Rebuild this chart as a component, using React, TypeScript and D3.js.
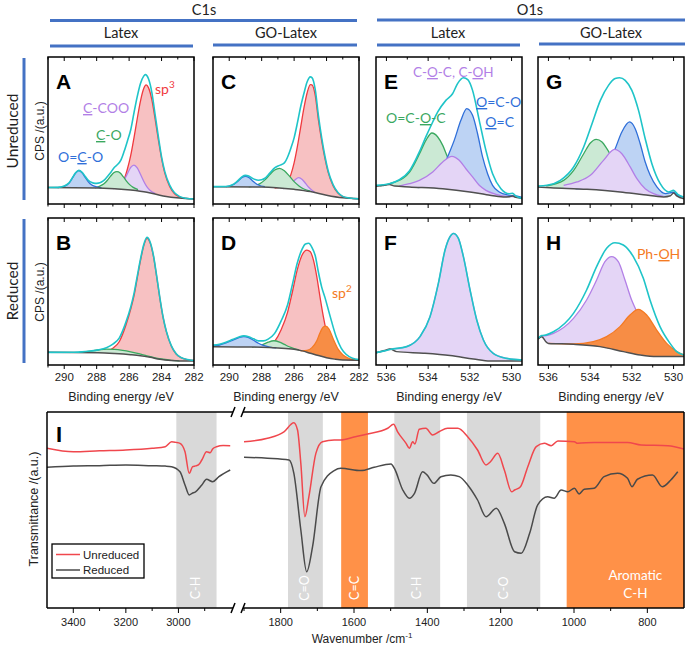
import React from 'react';
import * as d3 from 'd3';

type Pt = [number, number];

// ---------- XPS data: [binding energy eV, intensity (% of panel height)] ----------
const c1sDomain: Pt = [291, 282];
const o1sDomain: Pt = [536.5, 529.5];
const c1sTicks = [290, 288, 286, 284, 282];
const o1sTicks = [536, 534, 532, 530];

// A  Latex C1s unreduced
const bgA: Pt[] = [[291, 11.2], [287.9, 10.9], [285.9, 9.5], [284.9, 8], [283.9, 5.5], [282.9, 4], [282, 3.4]];
const ocoA: Pt[] = [[290.4, 11.2], [290.0, 12], [289.7, 14.2], [289.5, 17.6], [289.3, 21], [289.1, 22.7], [288.9, 21.2], [288.7, 18], [288.5, 14.9], [288.3, 12.9], [288.0, 11.6], [287.7, 11]];
const coA: Pt[] = [[288.1, 11], [287.8, 12.2], [287.55, 13.7], [287.35, 16], [287.15, 18.8], [286.95, 21.2], [286.75, 22], [286.55, 21.1], [286.35, 18.4], [286.15, 15.4], [285.95, 13], [285.75, 11.3], [285.45, 9.8]];
const ccooA: Pt[] = [[287.0, 10.5], [286.7, 11.3], [286.5, 13.0], [286.3, 16.3], [286.1, 20.8], [285.9, 24.9], [285.7, 26.5], [285.5, 24.6], [285.3, 20.2], [285.1, 15.5], [284.9, 11.6], [284.7, 9.2], [284.4, 7.2]];
const sp3A: Pt[] = [[287.1, 10.8], [286.7, 11.6], [286.3, 17], [286.1, 24], [285.9, 33], [285.7, 45], [285.5, 58], [285.3, 70], [285.1, 78.5], [284.95, 81], [284.8, 79], [284.6, 71], [284.4, 58], [284.2, 44], [284.0, 31], [283.8, 21], [283.5, 12], [283.2, 7], [282.9, 4.8], [282.5, 3.8], [282, 3.4]];
const envA: Pt[] = [[291, 11.2], [290.4, 11.3], [290.0, 12.2], [289.7, 14.4], [289.5, 17.8], [289.3, 21.2], [289.1, 22.9], [288.9, 21.6], [288.7, 18.7], [288.5, 16], [288.3, 14.6], [288.1, 14], [287.9, 14.2], [287.7, 15], [287.5, 16.6], [287.3, 19.2], [287.1, 22], [286.9, 25], [286.75, 26.5], [286.5, 30], [286.3, 36], [286.1, 43], [285.9, 50.5], [285.7, 62], [285.5, 73], [285.3, 82], [285.1, 87], [285.0, 88], [284.8, 85], [284.6, 76], [284.4, 61], [284.2, 46], [284.0, 32], [283.8, 22], [283.5, 12.8], [283.2, 7.6], [282.9, 5.2], [282.5, 3.9], [282, 3.4]];

// B  Latex C1s reduced
const bgB: Pt[] = [[291, 8.6], [287.9, 8.3], [286.9, 7.8], [285.9, 7], [285.3, 6.3], [284.7, 5.2], [284.1, 3.9], [283.4, 3], [282.9, 2.7], [282, 2.7]];
const coB: Pt[] = [[289.1, 8.6], [288.5, 9.2], [287.9, 10.2], [287.4, 10.8], [286.9, 10.6], [286.4, 9.9], [285.9, 8.9], [285.4, 7.7], [284.9, 6.2], [284.4, 4.9], [283.9, 3.9], [283.4, 3.2], [282.9, 2.8]];
const sp3B: Pt[] = [[287.4, 9.5], [287.0, 11.4], [286.6, 16], [286.2, 27], [285.9, 38], [285.7, 47], [285.5, 59], [285.3, 71], [285.1, 81], [284.9, 86.2], [284.7, 83], [284.5, 74], [284.3, 60], [284.1, 45], [283.9, 32], [283.7, 22.5], [283.4, 13], [283.1, 7.5], [282.8, 5], [282.4, 3.6], [282, 3.1]];
const envB: Pt[] = [[291, 8.6], [289.4, 8.7], [288.9, 8.9], [288.4, 9.5], [287.9, 10.3], [287.4, 11.8], [287.0, 14.2], [286.6, 18.5], [286.2, 29], [285.9, 39.5], [285.7, 48.5], [285.5, 60.3], [285.3, 72], [285.1, 81.8], [284.9, 86.8], [284.7, 83.5], [284.5, 74.5], [284.3, 60.5], [284.1, 45.5], [283.9, 32.3], [283.7, 22.8], [283.4, 13.2], [283.1, 7.7], [282.8, 5.1], [282.4, 3.7], [282, 3.1]];

// C  GO-Latex C1s unreduced
const bgC: Pt[] = [[291, 11.8], [288, 11.6], [286, 10], [285, 8.5], [284, 6], [283, 4.2], [282, 3.5]];
const ocoC: Pt[] = [[290.2, 11.8], [289.8, 12.9], [289.6, 14.3], [289.4, 16.2], [289.2, 18.1], [289.0, 18.8], [288.8, 18.1], [288.6, 16.2], [288.4, 14.3], [288.2, 12.9], [287.8, 11.8]];
const coC: Pt[] = [[288.8, 11.7], [288.4, 12.5], [288.1, 13.9], [287.8, 16.4], [287.5, 20], [287.2, 23.1], [286.9, 24.3], [286.6, 22.6], [286.3, 19.1], [286.0, 15.2], [285.7, 12.3], [285.4, 10.2], [285.0, 8.8]];
const ccooC: Pt[] = [[286.7, 10.4], [286.5, 11], [286.3, 12.4], [286.1, 14.6], [285.9, 16.9], [285.72, 17.9], [285.5, 16.7], [285.3, 14.1], [285.1, 11.4], [284.9, 9.3], [284.7, 7.7]];
const sp3C: Pt[] = [[287.2, 10.8], [286.8, 11.6], [286.4, 15], [286.2, 20], [286.0, 28], [285.8, 39], [285.6, 52], [285.4, 65], [285.2, 75.5], [285.0, 81.2], [284.9, 81], [284.7, 74], [284.5, 57], [284.3, 43], [284.1, 31], [283.9, 21.5], [283.6, 12.5], [283.3, 7.4], [283.0, 5], [282.6, 4], [282.0, 3.5]];
const envC: Pt[] = [[291, 11.8], [290.2, 11.9], [289.8, 13.1], [289.6, 14.6], [289.4, 16.6], [289.2, 18.6], [289.0, 19.5], [288.8, 19.0], [288.6, 17.7], [288.4, 16.6], [288.2, 16.2], [288.0, 16.5], [287.8, 17.5], [287.5, 21], [287.2, 24.5], [286.9, 26.3], [286.6, 28], [286.4, 32], [286.2, 38], [286.0, 45], [285.8, 55], [285.6, 66], [285.4, 75], [285.2, 83], [285.0, 86.5], [284.9, 86], [284.7, 78], [284.5, 60], [284.3, 45], [284.1, 32.5], [283.9, 22.5], [283.6, 13.2], [283.3, 7.8], [283.0, 5.2], [282.6, 4.1], [282, 3.5]];

// D  GO-Latex C1s reduced
const bgD: Pt[] = [[291, 12.5], [288, 12.1], [287, 11.6], [286, 10.7], [285.5, 9.6], [285, 8], [284.5, 6.4], [284, 5], [283.5, 4], [283, 3.4], [282, 3.3]];
const ocoD: Pt[] = [[291, 13], [290.6, 13.6], [290.2, 15], [289.8, 16.8], [289.4, 18.6], [289.1, 19.3], [288.8, 18.6], [288.5, 16.8], [288.2, 14.8], [287.9, 13.3], [287.5, 12.2], [287.1, 11.7]];
const coD: Pt[] = [[288.6, 12.1], [288.2, 12.8], [287.9, 14], [287.6, 15.5], [287.24, 16.5], [286.9, 15.6], [286.6, 14], [286.3, 12.4], [286, 11.2], [285.7, 10.3]];
const sp3D: Pt[] = [[287.6, 12.2], [287.2, 16], [286.8, 24], [286.4, 36], [286.1, 50], [285.8, 65], [285.5, 75], [285.21, 78.2], [285.0, 77], [284.8, 71], [284.6, 60], [284.4, 46], [284.2, 33], [284.0, 22], [283.8, 13.5], [283.5, 8], [283.2, 5.5], [282.9, 4.2], [282.5, 3.5], [282, 3.3]];
const sp2D: Pt[] = [[285.6, 9.6], [285.2, 10], [284.9, 11.8], [284.6, 16.5], [284.4, 22], [284.2, 25.8], [284.05, 26.5], [283.85, 24.5], [283.6, 18], [283.3, 11], [283.0, 7], [282.7, 4.8], [282.3, 3.6], [282, 3.3]];
const envD: Pt[] = [[291, 13.5], [290.6, 14.1], [290.2, 15.5], [289.8, 17.3], [289.4, 19.1], [289.1, 19.8], [288.8, 19.2], [288.5, 17.8], [288.2, 16.4], [287.9, 16.4], [287.6, 17.6], [287.2, 21.5], [286.8, 30], [286.4, 41], [286.1, 55], [285.8, 69.5], [285.5, 79], [285.3, 82.3], [285.1, 82.8], [284.9, 80], [284.7, 74.5], [284.5, 63], [284.3, 53], [284.1, 46], [283.9, 38], [283.7, 30], [283.4, 19], [283.1, 11.5], [282.8, 7.3], [282.4, 4.6], [282, 3.7]];

// E  Latex O1s unreduced
const bgE: Pt[] = [[536.5, 12], [536.2, 12.6], [535.86, 13.2], [535.6, 12.2], [534.9, 11.6], [533.3, 10.4], [532.0, 8.2], [531.2, 6.3], [530.4, 4.8], [530.1, 5], [529.95, 5.4], [529.8, 4.5], [529.5, 3.8]];
const ocoE: Pt[] = [[536.3, 12.4], [535.9, 13.6], [535.54, 15.2], [535.2, 17.5], [534.9, 21.5], [534.65, 27.5], [534.42, 34], [534.1, 43.5], [533.82, 48.3], [533.54, 45.6], [533.3, 39.9], [533.07, 32], [532.8, 25.5], [532.5, 20], [532.19, 15.6], [531.8, 11.5], [531.3, 8], [530.9, 6.5]];
const cocE: Pt[] = [[535.4, 12.2], [534.9, 13.8], [534.42, 16.1], [533.78, 21.8], [533.3, 28.6], [532.86, 32.4], [532.51, 29.7], [532.19, 24], [531.87, 18.4], [531.55, 12.7], [531.23, 9.3], [530.75, 6.6], [530.27, 5.2], [529.9, 5]];
const oceE: Pt[] = [[534.5, 11.2], [534.1, 12], [533.7, 15], [533.38, 21.8], [533.07, 32], [532.75, 43.3], [532.43, 56.9], [532.15, 64.9], [531.87, 60.3], [531.63, 47.8], [531.39, 32], [531.15, 20.6], [530.91, 12.7], [530.59, 8.2], [530.11, 5.9], [529.63, 5], [529.5, 4.5]];
const envE: Pt[] = [[536.5, 12.7], [535.86, 13.8], [535.38, 16.5], [534.9, 22.5], [534.42, 35.5], [534.1, 46], [533.78, 55.8], [533.54, 62.6], [533.15, 70.5], [532.83, 75], [532.59, 81.9], [532.31, 85.9], [532.1, 84.6], [531.87, 77.3], [531.55, 56.9], [531.23, 36.5], [530.91, 20.6], [530.51, 10.4], [530.11, 7], [529.95, 7.2], [529.8, 5.5], [529.5, 3.8]];

// F  Latex O1s reduced
const bgF: Pt[] = [[536.5, 8.4], [536.1, 9.8], [535.83, 10.9], [535.51, 9.1], [534.23, 8], [532.95, 6.4], [531.83, 4.1], [531.03, 2.7], [529.5, 2.7]];
const cocF: Pt[] = [[536.5, 8.4], [536.1, 9.6], [535.83, 10.6], [535.03, 12.5], [534.39, 19.3], [533.91, 32.9], [533.51, 55.5], [533.19, 78.2], [532.95, 87.3], [532.79, 89.5], [532.55, 86.2], [532.31, 73.7], [531.99, 51], [531.67, 30.6], [531.35, 17], [530.88, 7.9], [530.24, 4.5], [529.5, 3.4]];

// G  GO-Latex O1s unreduced
const bgG: Pt[] = [[536.5, 11.6], [535.9, 11.1], [534.15, 10], [532.56, 8.2], [531.44, 6.3], [530.48, 4.8], [530.15, 5.6], [530.0, 7.5], [529.85, 5.5], [529.5, 3.6]];
const ocoG: Pt[] = [[536.1, 12.4], [535.27, 16.1], [534.79, 22.9], [534.31, 34.2], [533.99, 41.5], [533.71, 44], [533.43, 42.2], [533.2, 37.6], [532.96, 32], [532.56, 22.9], [532.08, 15], [531.6, 10.4], [531.1, 7.2]];
const cocG: Pt[] = [[535.27, 12.7], [534.63, 15], [533.99, 19.5], [533.36, 29.7], [532.83, 37.2], [532.48, 34.2], [532.08, 25.2], [531.76, 17.2], [531.36, 10.4], [530.96, 7], [530.48, 5.2]];
const oceG: Pt[] = [[534.7, 10.3], [534.31, 10.8], [533.83, 12.7], [533.43, 18.4], [533.12, 27.4], [532.8, 37.6], [532.48, 49], [532.11, 55.8], [531.84, 51.2], [531.6, 41], [531.36, 28.6], [531.12, 19.5], [530.8, 11.6], [530.4, 7], [530.0, 8], [529.8, 5.8], [529.52, 4.8]];
const envG: Pt[] = [[536.5, 12.2], [536.07, 12.7], [535.43, 16.1], [534.79, 25.2], [534.31, 38.8], [533.91, 54.6], [533.51, 70.5], [533.12, 80.7], [532.8, 85.3], [532.59, 85.9], [532.32, 84.1], [532, 77.3], [531.68, 63.7], [531.36, 44.4], [531.04, 27.4], [530.64, 13.8], [530.24, 8.2], [530.0, 9.3], [529.8, 6.5], [529.52, 4.8]];

// H  GO-Latex O1s reduced
const bgH: Pt[] = [[536.5, 17.5], [536.32, 19.3], [536.1, 15.5], [536, 14.7], [534.8, 14.1], [533.53, 12.5], [532.4, 9.1], [531.6, 6.8], [530.8, 5.7], [529.5, 5.7]];
const cocH: Pt[] = [[536.5, 18.1], [536.32, 19.8], [536.1, 20], [535.76, 21.5], [534.8, 31.7], [534.17, 44.2], [533.69, 57.8], [533.29, 70.3], [532.97, 73.7], [532.65, 70.3], [532.33, 57.8], [532.01, 44.2], [531.77, 36.3], [531.45, 23.8], [531.13, 15.9], [530.65, 10.2], [530.01, 6.8], [529.5, 5.8]];
const phohH: Pt[] = [[536, 14.7], [534.8, 14.3], [533.85, 15.9], [533.21, 19.3], [532.57, 26.1], [532.09, 34], [531.69, 37.9], [531.29, 34], [530.81, 23.8], [530.33, 14.7], [529.85, 9.1], [529.5, 6.8]];
const envH: Pt[] = [[536.5, 18.1], [536.32, 20], [536.1, 20.5], [535.76, 22.6], [534.8, 35.1], [534.17, 51], [533.69, 66.9], [533.21, 79.4], [532.81, 83.2], [532.41, 81.6], [531.93, 73.7], [531.45, 59], [531.13, 44.2], [530.65, 26.1], [530.17, 14.7], [529.85, 9.1], [529.5, 6.8]];

// ---------- FTIR data: [wavenumber cm-1, transmittance a.u.] ----------
const ftirTicksLeft = [3400, 3200, 3000];
const ftirTicksRight = [1800, 1600, 1400, 1200, 1000, 800];
const unreducedHigh: Pt[] = [[3500, 81.5], [3400, 79.7], [3300, 80.2], [3200, 80.6], [3100, 81.5], [3050, 82.3], [3026, 84.8], [3010, 84.5], [2994, 84.0], [2975, 79.7], [2959, 68.7], [2946, 72.1], [2935, 72.5], [2924, 73.0], [2911, 75.5], [2893, 79.7], [2879, 79.2], [2870, 81.1], [2855, 82.3], [2830, 82.9], [2803, 82.8]];
const reducedHigh: Pt[] = [[3500, 71.8], [3400, 72.4], [3300, 72.6], [3200, 73.0], [3100, 72.6], [3050, 72.4], [3026, 72.1], [2994, 69.5], [2975, 62.8], [2959, 57.7], [2948, 58.5], [2935, 59.3], [2911, 62.8], [2893, 65.7], [2870, 64.4], [2846, 67.0], [2803, 70.4]];
const unreducedLow: Pt[] = [[1900, 84.8], [1836, 86.6], [1791, 89.9], [1764, 94.5], [1754, 90.8], [1745, 73.8], [1734, 46.6], [1723, 56.8], [1704, 78.9], [1686, 84.8], [1654, 85.7], [1636, 85.7], [1600, 87.2], [1563, 88.8], [1508, 91.7], [1492, 93.7], [1481, 89.9], [1458, 84.0], [1449, 81.5], [1440, 84.8], [1434, 83.7], [1422, 91.2], [1404, 91.7], [1386, 88.3], [1368, 89.9], [1345, 91.7], [1317, 91.7], [1290, 87.4], [1263, 80.6], [1240, 73.0], [1228, 74.6], [1208, 78.9], [1190, 70.4], [1170, 59.3], [1162, 60.2], [1146, 61.9], [1126, 72.1], [1103, 82.3], [1081, 84.0], [1062, 82.8], [1044, 85.2], [999, 84.8], [990, 84.0], [945, 84.5], [854, 84.5], [817, 83.2], [744, 82.8], [700, 81.1]];
const reducedLow: Pt[] = [[1900, 76.9], [1836, 76.4], [1777, 75.5], [1764, 68.7], [1745, 39.8], [1729, 18.5], [1713, 31.3], [1690, 61.9], [1654, 70.1], [1636, 71.3], [1581, 70.1], [1545, 71.8], [1499, 73.5], [1490, 71.3], [1467, 60.2], [1449, 56.0], [1435, 58.5], [1413, 69.5], [1401, 67.9], [1382, 63.6], [1363, 67.0], [1336, 67.9], [1313, 67.0], [1290, 62.8], [1263, 55.1], [1240, 46.6], [1212, 50.9], [1190, 43.2], [1162, 28.7], [1144, 27.9], [1121, 38.1], [1099, 52.6], [1072, 56.8], [1054, 56.0], [1035, 60.2], [1017, 59.3], [999, 61.1], [986, 58.2], [972, 60.6], [945, 61.1], [918, 67.0], [881, 68.7], [854, 66.2], [842, 61.9], [827, 65.7], [786, 67.9], [759, 61.9], [736, 65.3], [717, 69.5]];
const bandFrom = [3008, 1780, 1635, 1490, 1292, 1020];
const bandTo = [2855, 1685, 1562, 1365, 1092, 700];
const bandNames = ['C-H', 'C=O', 'C=C', 'C-H', 'C-O', 'Aromatic C-H'];
const bandKinds = ['grey', 'grey', 'orange', 'grey', 'grey', 'orange'];

// ---------- styling ----------
const SANS = "'Liberation Sans', Arial, sans-serif";
const CAL = "Lato, 'Open Sans', sans-serif";
const HEAD = '#4472c4';
const ENV = '#1fc4c8';
const RED = '#f0393e';
const PUR = '#b27fe6';
const GRN = '#3aa85f';
const BLU = '#2f6fd9';
const ORG = '#f47a23';
const BGL = '#505050';
const FILL: Record<string, string> = {
  [RED]: '#f7c1c2',
  [PUR]: '#e4d5f6',
  [GRN]: '#cbe9d4',
  [BLU]: '#bdd3f4',
  [ORG]: '#f78d45',
};

const COLS = [48, 213, 376, 538];
const ROWS = [57, 218];
const PW = 146;
const PH = 147;

type Comp = { data: Pt[]; color: string };
type Spec = { id: string; col: number; row: number; c1s: boolean; bg: Pt[]; comps: Comp[]; env: Pt[] };

const comp = (data: Pt[], color: string): Comp => ({ data, color });

// components listed in painting order (later fills cover earlier ones)
const specs: Spec[] = [
  { id: 'A', col: 0, row: 0, c1s: true, bg: bgA, env: envA, comps: [comp(sp3A, RED), comp(ccooA, PUR), comp(coA, GRN), comp(ocoA, BLU)] },
  { id: 'B', col: 0, row: 1, c1s: true, bg: bgB, env: envB, comps: [comp(sp3B, RED), comp(coB, GRN)] },
  { id: 'C', col: 1, row: 0, c1s: true, bg: bgC, env: envC, comps: [comp(sp3C, RED), comp(ccooC, PUR), comp(coC, GRN), comp(ocoC, BLU)] },
  { id: 'D', col: 1, row: 1, c1s: true, bg: bgD, env: envD, comps: [comp(sp3D, RED), comp(coD, GRN), comp(ocoD, BLU), comp(sp2D, ORG)] },
  { id: 'E', col: 2, row: 0, c1s: false, bg: bgE, env: envE, comps: [comp(ocoE, GRN), comp(oceE, BLU), comp(cocE, PUR)] },
  { id: 'F', col: 2, row: 1, c1s: false, bg: bgF, env: cocF, comps: [comp(cocF, PUR)] },
  { id: 'G', col: 3, row: 0, c1s: false, bg: bgG, env: envG, comps: [comp(ocoG, GRN), comp(oceG, BLU), comp(cocG, PUR)] },
  { id: 'H', col: 3, row: 1, c1s: false, bg: bgH, env: envH, comps: [comp(cocH, PUR), comp(phohH, ORG)] },
];

function XpsPanel({ s }: { s: Spec }) {
  const left = COLS[s.col];
  const top = ROWS[s.row];
  const domain = s.c1s ? c1sDomain : o1sDomain;
  const majors = s.c1s ? c1sTicks : o1sTicks;
  const x = d3.scaleLinear().domain(domain).range([left, left + PW]);
  const y = d3.scaleLinear().domain([0, 100]).range([top + PH, top]);
  const base = d3.scaleLinear().domain(s.bg.map(d => d[0])).range(s.bg.map(d => d[1]));
  const line = d3.line<Pt>().x(d => x(d[0])).y(d => y(d[1])).curve(d3.curveMonotoneX);
  const area = d3.area<Pt>().x(d => x(d[0])).y0(d => y(base(d[0]))).y1(d => y(d[1])).curve(d3.curveMonotoneX);
  const minors = d3.range(Math.ceil(domain[1]), Math.floor(domain[0]) + 1);
  const clip = `clip-${s.id}`;
  return (
    <g>
      <defs>
        <clipPath id={clip}><rect x={left} y={top} width={PW} height={PH} /></clipPath>
      </defs>
      <g clipPath={`url(#${clip})`}>
        {s.comps.map((c, i) => (
          <g key={i}>
            <path d={area(c.data) || ''} fill={FILL[c.color]} />
            <path d={line(c.data) || ''} fill="none" stroke={c.color} strokeWidth={1.3} />
          </g>
        ))}
        <path d={line(s.bg) || ''} fill="none" stroke={BGL} strokeWidth={1.5} />
        <path d={line(s.env) || ''} fill="none" stroke={ENV} strokeWidth={1.6} />
      </g>
      <rect x={left} y={top} width={PW} height={PH} fill="none" stroke="#000" strokeWidth={1.5} />
      {minors.map(t => {
        const len = majors.includes(t) ? 4 : 2.5;
        return (
          <g key={t} stroke="#000" strokeWidth={1}>
            <line x1={x(t)} x2={x(t)} y1={top} y2={top + len} />
            <line x1={x(t)} x2={x(t)} y1={top + PH} y2={top + PH + len} />
          </g>
        );
      })}
      {s.row === 1 && majors.map(t => (
        <text key={t} x={x(t)} y={top + PH + 16} textAnchor="middle" fontSize={11.5} fontFamily={SANS} fill="#222">{t}</text>
      ))}
      {s.row === 1 && (
        <text x={left + PW / 2} y={401} textAnchor="middle" fontSize={12.5} fontFamily={SANS} fill="#222">Binding energy /eV</text>
      )}
      <text x={left + 8} y={top + 32} fontSize={21} fontWeight="bold" fontFamily={SANS} fill="#000">{s.id}</text>
    </g>
  );
}

function Ftir() {
  const top = 412, bottom = 608, left = 47, right = 684;
  const xa = d3.scaleLinear().domain([3500, 2800]).range([left, 231]);
  const xb = d3.scaleLinear().domain([1900, 700]).range([244, right]);
  const y = d3.scaleLinear().domain([0, 100]).range([bottom, top]);
  const xOf = (w: number) => (w > 2200 ? xa(w) : xb(w));
  const lineA = d3.line<Pt>().x(d => xa(d[0])).y(d => y(d[1])).curve(d3.curveMonotoneX);
  const lineB = d3.line<Pt>().x(d => xb(d[0])).y(d => y(d[1])).curve(d3.curveMonotoneX);
  const minorA = [3300, 3100, 2900];
  const minorB = [1900, 1700, 1500, 1300, 1100, 900];
  return (
    <g>
      <defs>
        <clipPath id="clip-ftir"><rect x={left} y={top} width={right - left} height={bottom - top} /></clipPath>
      </defs>
      <g clipPath="url(#clip-ftir)">
        {bandFrom.map((f, i) => {
          const x0 = xOf(f), x1 = xOf(bandTo[i]);
          return <rect key={i} x={x0} y={top} width={x1 - x0} height={bottom - top} fill={bandKinds[i] === 'grey' ? '#d9d9d9' : '#ff9148'} />;
        })}
        <path d={lineA(unreducedHigh) || ''} fill="none" stroke="#f0474d" strokeWidth={1.5} />
        <path d={lineA(reducedHigh) || ''} fill="none" stroke="#4a4a4a" strokeWidth={1.5} />
        <path d={lineB(unreducedLow) || ''} fill="none" stroke="#f0474d" strokeWidth={1.5} />
        <path d={lineB(reducedLow) || ''} fill="none" stroke="#4a4a4a" strokeWidth={1.5} />
      </g>
      {bandFrom.map((f, i) => {
        const cx = (xOf(f) + xOf(bandTo[i])) / 2;
        if (bandNames[i].includes(' ')) {
          const [a, b] = bandNames[i].split(' ');
          return (
            <text key={i} x={cx + 10} textAnchor="middle" fontSize={13.5} fontFamily={CAL} fill="#fff">
              <tspan x={cx + 10} y={580}>{a}</tspan>
              <tspan x={cx + 10} y={598}>{b}</tspan>
            </text>
          );
        }
        return (
          <text key={i} transform={`translate(${cx + 4},588) rotate(-90)`} textAnchor="middle" fontSize={12.5} fontFamily={CAL} fill="#fff">{bandNames[i]}</text>
        );
      })}
      <g stroke="#000" strokeWidth={1.5} fill="none">
        <line x1={left} x2={left} y1={top} y2={bottom} />
        <line x1={right} x2={right} y1={top} y2={bottom} />
        <line x1={left} x2={233} y1={top} y2={top} />
        <line x1={243} x2={right} y1={top} y2={top} />
        <line x1={left} x2={233} y1={bottom} y2={bottom} />
        <line x1={243} x2={right} y1={bottom} y2={bottom} />
        <line x1={231} x2={235} y1={top + 5} y2={top - 5} />
        <line x1={241} x2={245} y1={top + 5} y2={top - 5} />
        <line x1={231} x2={235} y1={bottom + 5} y2={bottom - 5} />
        <line x1={241} x2={245} y1={bottom + 5} y2={bottom - 5} />
      </g>
      <g stroke="#000" strokeWidth={1}>
        {ftirTicksLeft.map(t => <line key={t} x1={xa(t)} x2={xa(t)} y1={bottom} y2={bottom + 5} />)}
        {minorA.map(t => <line key={t} x1={xa(t)} x2={xa(t)} y1={bottom} y2={bottom + 3} />)}
        {ftirTicksRight.map(t => <line key={t} x1={xb(t)} x2={xb(t)} y1={bottom} y2={bottom + 5} />)}
        {minorB.map(t => <line key={t} x1={xb(t)} x2={xb(t)} y1={bottom} y2={bottom + 3} />)}
      </g>
      {ftirTicksLeft.map(t => <text key={t} x={xa(t)} y={626} textAnchor="middle" fontSize={11} fontFamily={SANS} fill="#222">{t}</text>)}
      {ftirTicksRight.map(t => <text key={t} x={xb(t)} y={626} textAnchor="middle" fontSize={11} fontFamily={SANS} fill="#222">{t}</text>)}
      <text x={362} y={643} textAnchor="middle" fontSize={12} fontFamily={SANS} fill="#222">
        Wavenumber /cm<tspan dy={-5} fontSize={8}>-1</tspan>
      </text>
      <text transform="translate(38,509) rotate(-90)" textAnchor="middle" fontSize={12.5} fontFamily={SANS} fill="#222">Transmittance /(a.u.)</text>
      <text x={56} y={442} fontSize={22} fontWeight="bold" fontFamily={SANS}>I</text>
      <rect x={52} y={544} width={92} height={34} fill="#fff" stroke="#000" strokeWidth={1.3} />
      <line x1={56} x2={80} y1={554.5} y2={554.5} stroke="#f0474d" strokeWidth={1.5} />
      <line x1={56} x2={80} y1={570} y2={570} stroke="#4a4a4a" strokeWidth={1.5} />
      <text x={83} y={558.5} fontSize={11.5} fontFamily={SANS} fill="#222">Unreduced</text>
      <text x={83} y={574} fontSize={11.5} fontFamily={SANS} fill="#222">Reduced</text>
    </g>
  );
}

const U = { textDecoration: 'underline' };

export default function App() {
  return (
    <>
      <style>{'body{margin:0}'}</style>
      <svg width={685} height={647} style={{ display: 'block', background: '#fff' }}>
        {/* headers */}
        <g fontFamily={CAL} fontSize={14.5} fill="#222" textAnchor="middle">
          <text x={204} y={14.5}>C1s</text>
          <text x={530} y={14.5}>O1s</text>
          <text x={121} y={38}>Latex</text>
          <text x={286} y={38}>GO-Latex</text>
          <text x={448} y={38}>Latex</text>
          <text x={611} y={38}>GO-Latex</text>
        </g>
        <g stroke={HEAD} strokeWidth={3}>
          <line x1={50} x2={357} y1={20.5} y2={20.5} />
          <line x1={377} x2={685} y1={20} y2={20} />
          <line x1={50} x2={193} y1={46} y2={46} />
          <line x1={213} x2={357} y1={45} y2={45} />
          <line x1={377} x2={520} y1={45} y2={45} />
          <line x1={539} x2={685} y1={44} y2={44} />
          <line x1={24} x2={24} y1={58} y2={200} />
          <line x1={24} x2={24} y1={219} y2={363} />
        </g>
        <text transform="translate(18,131) rotate(-90)" textAnchor="middle" fontSize={15.5} fontFamily={CAL} fill="#222">Unreduced</text>
        <text transform="translate(18,291) rotate(-90)" textAnchor="middle" fontSize={15.5} fontFamily={CAL} fill="#222">Reduced</text>
        <text transform="translate(44,131) rotate(-90)" textAnchor="middle" fontSize={12} fontFamily={SANS} fill="#222">CPS /(a.u.)</text>
        <text transform="translate(44,292) rotate(-90)" textAnchor="middle" fontSize={12} fontFamily={SANS} fill="#222">CPS /(a.u.)</text>

        {specs.map(s => <XpsPanel key={s.id} s={s} />)}

        {/* peak annotations */}
        <g fontFamily={CAL} fontSize={14}>
          <text x={155} y={94} fill={RED}>sp<tspan dy={-6} fontSize={10}>3</tspan></text>
          <text x={83} y={113} fill={PUR}><tspan style={U}>C</tspan>-COO</text>
          <text x={96} y={140} fill={GRN}><tspan style={U}>C</tspan>-O</text>
          <text x={58} y={162} fill={BLU}>O=<tspan style={U}>C</tspan>-O</text>
          <text x={332} y={298} fill={ORG}>sp<tspan dy={-6} fontSize={10}>2</tspan></text>
          <text x={413} y={77} fill={PUR} fontSize={13.5}>C-<tspan style={U}>O</tspan>-C, C-<tspan style={U}>O</tspan>H</text>
          <text x={476} y={107} fill={BLU}><tspan style={U}>O</tspan>=C-O</text>
          <text x={514} y={127} fill={BLU} textAnchor="end"><tspan style={U}>O</tspan>=C</text>
          <text x={386} y={123} fill={GRN}>O=C-<tspan style={U}>O</tspan>-C</text>
          <text x={637} y={259} fill={ORG}>Ph-<tspan style={U}>O</tspan>H</text>
        </g>

        <Ftir />
      </svg>
    </>
  );
}
